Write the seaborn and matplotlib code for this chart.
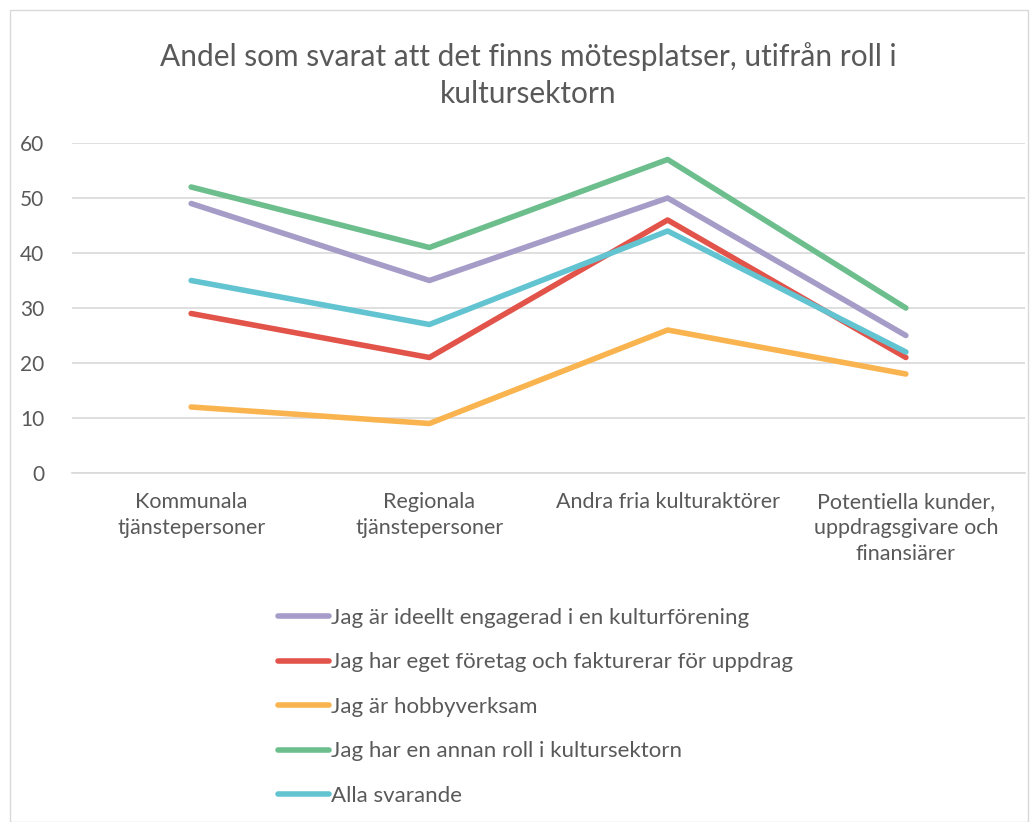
import matplotlib
matplotlib.use("Agg")
import matplotlib.pyplot as plt
import pandas as pd
import seaborn as sns
from matplotlib.patches import Rectangle

categories = [
    "Kommunala\ntjänstepersoner",
    "Regionala\ntjänstepersoner",
    "Andra fria kulturaktörer",
    "Potentiella kunder,\nuppdragsgivare och\nfinansiärer",
]
series_names = [
    "Jag är ideellt engagerad i en kulturförening",
    "Jag har eget företag och fakturerar för uppdrag",
    "Jag är hobbyverksam",
    "Jag har en annan roll i kultursektorn",
    "Alla svarande",
]
ideell = [49, 35, 50, 25]
foretag = [29, 21, 46, 21]
hobby = [12, 9, 26, 18]
annan = [52, 41, 57, 30]
alla = [35, 27, 44, 22]
colors = ["#A59CC8", "#E2534A", "#F9B44F", "#6CBE8D", "#62C3D1"]

rows = []
for name, vals in zip(series_names, [ideell, foretag, hobby, annan, alla]):
    for i, v in enumerate(vals):
        rows.append({"pos": i, "serie": name, "value": v})
df = pd.DataFrame(rows)

sns.set_style("white")
plt.rcParams["font.family"] = ["Lato", "DejaVu Sans"]
text_color = "#595959"

fig = plt.figure(figsize=(10.35, 8.22), dpi=100)
ax = fig.add_axes([72 / 1035, 1 - 473 / 822, (1025 - 72) / 1035, (473 - 143) / 822])

sns.lineplot(data=df, x="pos", y="value", hue="serie", palette=colors,
             linewidth=4, ax=ax, legend=False, solid_capstyle="round")

ax.set_xlim(-0.5, 3.5)
ax.set_ylim(0, 60)
ax.set_yticks(range(0, 61, 10))
ax.set_xticks(range(4))
ax.set_xticklabels(categories, fontsize=15.5, color=text_color, linespacing=1.35)
ax.tick_params(axis="y", labelsize=15, labelcolor=text_color, length=0, pad=20)
ax.tick_params(axis="x", length=0, pad=14)
ax.set_xlabel("")
ax.set_ylabel("")
ax.grid(axis="y", color="#D9D9D9", linewidth=1.2)
ax.set_axisbelow(True)
for s in ["top", "right", "left"]:
    ax.spines[s].set_visible(False)
ax.spines["bottom"].set_color("#D9D9D9")
ax.spines["bottom"].set_linewidth(1.2)

fig.text(0.51, 1 - 75 / 822, "Andel som svarat att det finns mötesplatser, utifrån roll i\nkultursektorn",
         ha="center", va="center", fontsize=21.5, color=text_color, linespacing=1.35)

handles = [plt.Line2D([], [], color=c, linewidth=4, solid_capstyle="round") for c in colors]
fig.legend(handles, series_names, loc="upper left", bbox_to_anchor=(258 / 1035, 1 - 588 / 822),
           frameon=False, fontsize=16, labelcolor=text_color, handlelength=2.3,
           handletextpad=0.1, labelspacing=1.1)

fig.patches.append(Rectangle((10 / 1035, 0), 1018 / 1035, 1 - 10 / 822, transform=fig.transFigure,
                             fill=False, edgecolor="#D9D9D9", linewidth=1))

fig.savefig("out.png", dpi=100)
